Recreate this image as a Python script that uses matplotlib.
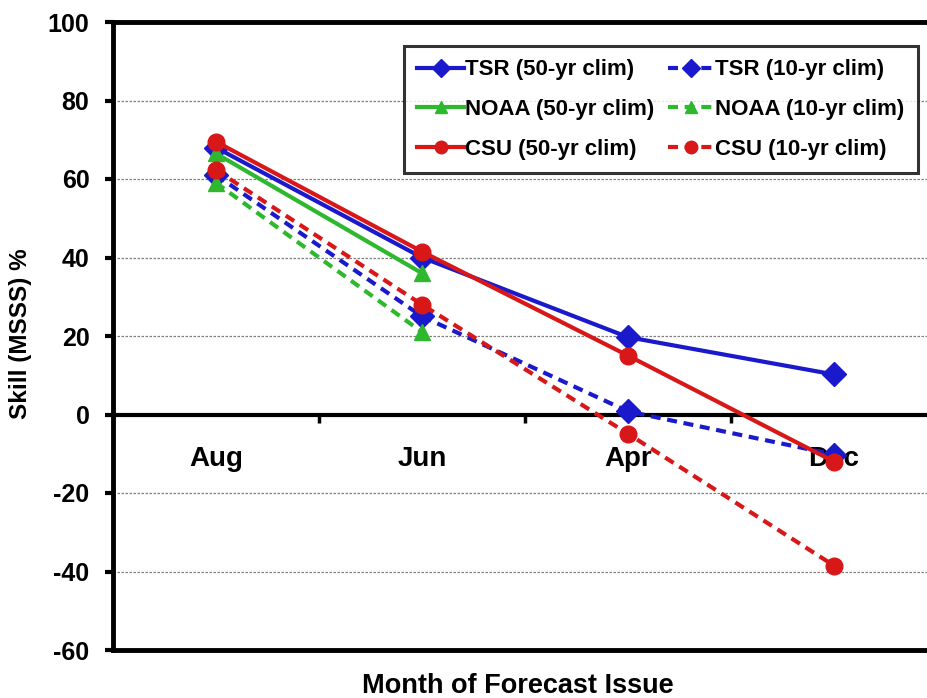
import numpy as np
import matplotlib
matplotlib.use('Agg')
import matplotlib.pyplot as plt
from matplotlib.ticker import FuncFormatter

# data
months = ['Aug', 'Jun', 'Apr', 'Dec']
tsr_50 = [68, 40, 19.7, 10.2]
tsr_10 = [61, 25, 0.8, -10.2]
noaa_50 = [66.5, 36, np.nan, np.nan]
noaa_10 = [59, 21, np.nan, np.nan]
csu_50 = [69.5, 41.5, 15, -12]
csu_10 = [62.3, 28, -4.9, -38.5]
y_ticks = [-60, -40, -20, 0, 20, 40, 60, 80, 100]

blue = '#1a1acc'
green = '#2eb82e'
red = '#d81818'

plt.rcParams['font.family'] = ['Liberation Sans', 'DejaVu Sans']
plt.rcParams['font.weight'] = 'bold'

W, H = 927, 698
fig = plt.figure(figsize=(W / 100, H / 100), dpi=100)
ax = fig.add_axes([113 / W, 1 - 650 / H, 824 / W, 628 / H])

x = np.arange(len(months)) + 0.5
lw = 3
dash = (2.4, 1.6)

series = [
    (tsr_50, blue, 'D', 12, '-', 'TSR (50-yr clim)'),
    (tsr_10, blue, 'D', 12, '--', 'TSR (10-yr clim)'),
    (noaa_50, green, '^', 12, '-', 'NOAA (50-yr clim)'),
    (noaa_10, green, '^', 12, '--', 'NOAA (10-yr clim)'),
    (csu_50, red, 'o', 12, '-', 'CSU (50-yr clim)'),
    (csu_10, red, 'o', 12, '--', 'CSU (10-yr clim)'),
]
lines = {}
for vals, col, mk, ms, ls, lab in series:
    kw = dict(color=col, marker=mk, markersize=ms, lw=lw, label=lab,
              markeredgecolor=col, zorder=3, clip_on=False)
    if ls == '--':
        ln, = ax.plot(x, vals, linestyle='--', dashes=dash, **kw)
    else:
        ln, = ax.plot(x, vals, **kw)
    lines[lab] = ln

ax.set_xlim(0, 4)
ax.set_ylim(-60, 100)
ax.set_yticks(y_ticks)
ax.yaxis.set_major_formatter(FuncFormatter(lambda v, p: '%d' % v))
ax.tick_params(axis='y', direction='out', length=6, width=3, labelsize=18, pad=11)

# grid lines (dotted grey) except at 0 and frame
for v in y_ticks:
    if v not in (0, -60, 100):
        ax.axhline(v, color='#808080', lw=0.9, ls=(0, (2, 1.2)), zorder=1)

# x axis sits at zero
ax.spines['bottom'].set_position(('data', 0))
ax.spines['bottom'].set_linewidth(3)
ax.spines['left'].set_linewidth(3.5)
ax.spines['top'].set_linewidth(3.5)
ax.spines['right'].set_visible(False)
ax.axhline(-60, color='black', lw=3.5, zorder=2, clip_on=False)

ax.set_xticks([1, 2, 3])
ax.set_xticklabels([])
ax.set_xticks(x, minor=True)
ax.set_xticklabels(months, minor=True)
ax.tick_params(axis='x', which='major', direction='out', length=6, width=2.5)
ax.tick_params(axis='x', which='minor', length=0, labelsize=20, pad=23)

fig.text(21 / W, 1 - 334 / H, 'Skill (MSSS) %', rotation=90, ha='center', va='center',
         fontsize=17.5, fontweight='bold')
fig.text(518 / W, 1 - 673 / H, 'Month of Forecast Issue', ha='center', va='top',
         fontsize=19.5, fontweight='bold')

order = ['TSR (50-yr clim)', 'NOAA (50-yr clim)', 'CSU (50-yr clim)',
         'TSR (10-yr clim)', 'NOAA (10-yr clim)', 'CSU (10-yr clim)']
leg = ax.legend([lines[k] for k in order], order, ncol=2, loc='upper left',
                bbox_to_anchor=(291 / 824, 1 - 24 / 628), fontsize=16,
                frameon=True, fancybox=False, edgecolor='black',
                handlelength=2.1, handletextpad=0.05, columnspacing=0.6,
                labelspacing=0.85, borderpad=0.6, borderaxespad=0)
leg.get_frame().set_linewidth(2.2)
for h in leg.legend_handles:
    h.set_markersize(9)

fig.savefig('out.png', dpi=100)
